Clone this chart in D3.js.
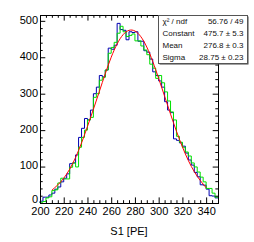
<!DOCTYPE html>
<html>
<head>
<meta charset="utf-8">
<script src="https://cdn.jsdelivr.net/npm/d3@7"></script>
<style>
  body { margin: 0; background: #fff; }
  svg { display: block; }
</style>
</head>
<body>
<div id="vis"></div>
<script>
// histogram binning (S1 in PE)
var binLow = 200, binWidth = 2.5;

// counts per bin
var blueCounts = [5, 16, 16, 22, 27, 38, 44, 58, 68, 80,
                  108, 110, 132, 180, 205, 232, 228, 255, 300, 318,
                  350, 346, 365, 425, 422, 433, 493, 476, 474, 448,
                  470, 468, 470, 444, 444, 418, 414, 395, 360, 350,
                  335, 318, 278, 255, 248, 176, 172, 165, 156, 137,
                  118, 104, 84, 72, 50, 49, 38, 20, 19, 14];
var greenCounts = [2, 4, 14, 17, 34, 36, 55, 68, 66, 66,
                   98, 110, 99, 153, 180, 200, 228, 235, 290, 300,
                   337, 345, 365, 411, 427, 441, 466, 485, 470, 457,
                   460, 464, 445, 445, 431, 420, 407, 381, 370, 342,
                   350, 330, 305, 280, 250, 228, 183, 167, 153, 140,
                   129, 110, 99, 85, 71, 58, 40, 40, 27, 16];

// gaussian fit curve
var fitX = [210, 220, 230, 240, 250, 260, 270, 280, 290, 300, 310, 320, 330, 340];
var fitY = [35, 68, 125, 210, 306, 400, 462, 472, 428, 342, 244, 154, 86, 42];

// axes
var xTicks = [200, 220, 240, 260, 280, 300, 320, 340];
var yTicks = [0, 100, 200, 300, 400, 500];
var xTitle = "S1 [PE]";

// stats box
var statNames = ["\u03c7\u00b2 / ndf", "Constant", "Mean", "Sigma"];
var statValues = ["56.76 / 49", "475.7 \u00b1 5.3", "276.8 \u00b1 0.3", "28.75 \u00b1 0.23"];

function draw() {
  var width = 254, height = 242;
  var left = 40, right = 218, top = 15, bottom = 203;
  var font = "Liberation Sans, Arial, Helvetica, sans-serif";

  var svg = d3.select("#vis").append("svg")
              .attr("width", width)
              .attr("height", height);

  var x = d3.scaleLinear().domain([200, 350]).range([left, right]);
  var y = d3.scaleLinear().domain([0, 516]).range([bottom, top]);

  var xMinor = d3.range(200, 351, 5).filter(function(v) { return v % 20 !== 0; });
  var yMinor = d3.range(0, 516, 20).filter(function(v) { return v % 100 !== 0; });

  function histPoints(counts) {
    var pts = [[binLow, 0]];
    counts.forEach(function(c, i) { pts.push([binLow + i * binWidth, c]); });
    pts.push([binLow + counts.length * binWidth, counts[counts.length - 1]]);
    return pts;
  }

  var step = d3.line()
               .x(function(d) { return x(d[0]); })
               .y(function(d) { return y(d[1]); })
               .curve(d3.curveStepAfter);

  svg.append("path")
     .attr("d", step(histPoints(blueCounts)))
     .attr("fill", "none")
     .attr("stroke", "#0000b0")
     .attr("stroke-width", 1);

  svg.append("path")
     .attr("d", step(histPoints(greenCounts)))
     .attr("fill", "none")
     .attr("stroke", "#00e000")
     .attr("stroke-width", 1);

  var fitLine = d3.line()
                  .x(function(d, i) { return x(d); })
                  .y(function(d, i) { return y(fitY[i]); })
                  .curve(d3.curveNatural);

  svg.append("path")
     .attr("d", fitLine(fitX))
     .attr("fill", "none")
     .attr("stroke", "#ff0000")
     .attr("stroke-width", 1);

  // ticks on all four sides, pointing inward
  function axisGroup(axis, tx, ty) {
    var g = svg.append("g")
               .attr("transform", "translate(" + tx + "," + ty + ")")
               .call(axis);
    g.select(".domain").remove();
    g.selectAll("line").attr("stroke", "#000");
    g.selectAll("text").attr("fill", "#000").attr("font-family", font).attr("font-size", 11);
    return g;
  }

  axisGroup(d3.axisBottom(x).tickValues(xTicks).tickSize(-5.6).tickPadding(4).tickFormat(d3.format("d")), 0, bottom);
  axisGroup(d3.axisBottom(x).tickValues(xMinor).tickSize(-2.8).tickFormat(""), 0, bottom);
  axisGroup(d3.axisTop(x).tickValues(xTicks).tickSize(-5.6).tickFormat(""), 0, top);
  axisGroup(d3.axisTop(x).tickValues(xMinor).tickSize(-2.8).tickFormat(""), 0, top);

  var yg = axisGroup(d3.axisLeft(y).tickValues(yTicks).tickSize(-5.3).tickPadding(2).tickFormat(d3.format("d")), left, 0);
  yg.selectAll("text").attr("dy", function(d) { return d === 0 ? "-0.05em" : "0.22em"; });
  axisGroup(d3.axisLeft(y).tickValues(yMinor).tickSize(-2.7).tickFormat(""), left, 0);
  axisGroup(d3.axisRight(y).tickValues(yTicks).tickSize(-5.3).tickFormat(""), right, 0);
  axisGroup(d3.axisRight(y).tickValues(yMinor).tickSize(-2.7).tickFormat(""), right, 0);

  svg.append("rect")
     .attr("x", left + 0.5)
     .attr("y", top + 0.5)
     .attr("width", right - left)
     .attr("height", bottom - top)
     .attr("fill", "none")
     .attr("stroke", "#000");

  svg.append("text")
     .attr("x", (left + right) / 2)
     .attr("y", 235)
     .attr("text-anchor", "middle")
     .attr("font-family", font)
     .attr("font-size", 11)
     .attr("fill", "#000")
     .text(xTitle);

  // stats box
  var bx = 158, by = 15, bw = 89, bh = 48;
  svg.append("rect")
     .attr("x", bx + 1.5).attr("y", by + 1.5)
     .attr("width", bw).attr("height", bh)
     .attr("fill", "#444");
  svg.append("rect")
     .attr("x", bx + 0.5).attr("y", by + 0.5)
     .attr("width", bw).attr("height", bh)
     .attr("fill", "#fff")
     .attr("stroke", "#555");

  var rowH = bh / statNames.length;
  var rows = svg.append("g").selectAll("g")
                .data(statNames)
                .enter().append("g");
  rows.append("text")
      .attr("x", bx + 4.5)
      .attr("y", function(d, i) { return by + rowH * (i + 0.5) + 3; })
      .attr("font-family", font)
      .attr("font-size", 8)
      .attr("fill", "#111")
      .text(function(d) { return d; });
  rows.append("text")
      .attr("x", bx + bw - 3.5)
      .attr("y", function(d, i) { return by + rowH * (i + 0.5) + 3; })
      .attr("text-anchor", "end")
      .attr("font-family", font)
      .attr("font-size", 8)
      .attr("fill", "#111")
      .text(function(d, i) { return statValues[i]; });
}

draw();
</script>
</body>
</html>
